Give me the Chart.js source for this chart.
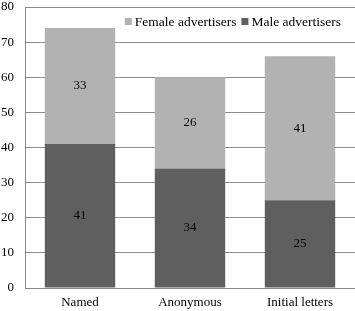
<!DOCTYPE html>
<html lang="en">
<head>
  <meta charset="UTF-8"/>
  <title>Advertisers by signature type</title>
  <script src="https://cdn.jsdelivr.net/npm/chart.js"></script>
  <style>
    html, body { margin: 0; padding: 0; background: #fff; }
    .chart-box { width: 355px; height: 311px; position: relative; }
  </style>
</head>
<body>
<div class="chart-box">
  <canvas id="adChart"></canvas>
</div>
<script>
  const categories = ['Named', 'Anonymous', 'Initial letters'];
  const maleValues = [41, 34, 25];
  const femaleValues = [33, 26, 41];
  const yTicks = [0, 10, 20, 30, 40, 50, 60, 70, 80];

  const serif = '"Liberation Serif", "Times New Roman", serif';
  const maleColor = '#5f5f5f';
  const femaleColor = '#b2b2b2';

  // writes each segment's value in the middle of the segment
  const segmentLabels = {
    id: 'segmentLabels',
    afterDatasetsDraw(chart) {
      const ctx = chart.ctx;
      ctx.save();
      ctx.font = '13px ' + serif;
      ctx.fillStyle = '#000';
      ctx.textAlign = 'center';
      ctx.textBaseline = 'middle';
      chart.data.datasets.forEach((ds, i) => {
        chart.getDatasetMeta(i).data.forEach((bar, j) => {
          const mid = (bar.y + bar.base) / 2;
          ctx.fillText(ds.data[j], bar.x, mid);
        });
      });
      ctx.restore();
    }
  };

  // legend sits inside the plot, top right
  const innerLegend = {
    id: 'innerLegend',
    afterDraw(chart) {
      const ctx = chart.ctx;
      const area = chart.chartArea;
      ctx.save();
      ctx.font = '13.5px ' + serif;
      ctx.textBaseline = 'middle';
      const items = chart.data.datasets.slice().reverse();
      const y = area.top + 15;
      let x = area.right - 14;
      for (let i = items.length - 1; i >= 0; i--) {
        const w = ctx.measureText(items[i].label).width;
        x -= w;
        ctx.fillStyle = '#000';
        ctx.fillText(items[i].label, x, y);
        x -= 10;
        ctx.fillStyle = items[i].backgroundColor;
        ctx.fillRect(x, y - 4, 7, 7);
        x -= 5;
      }
      ctx.restore();
    }
  };

  new Chart(document.getElementById('adChart'), {
    type: 'bar',
    data: {
      labels: categories,
      datasets: [
        { label: 'Male advertisers', data: maleValues, backgroundColor: maleColor },
        { label: 'Female advertisers', data: femaleValues, backgroundColor: femaleColor }
      ]
    },
    options: {
      responsive: true,
      maintainAspectRatio: false,
      animation: false,
      layout: { padding: 0 },
      datasets: { bar: { categoryPercentage: 1, barPercentage: 0.64 } },
      plugins: {
        legend: { display: false },
        tooltip: { enabled: false }
      },
      scales: {
        x: {
          stacked: true,
          grid: { display: false, drawTicks: false },
          border: { color: '#888' },
          ticks: { font: { family: serif, size: 13 }, color: '#000', padding: 7 },
          afterFit(axis) { axis.height = 23; }
        },
        y: {
          stacked: true,
          min: 0,
          max: 80,
          afterBuildTicks(axis) { axis.ticks = yTicks.map(v => ({ value: v })); },
          grid: { color: '#8c8c8c', drawTicks: false },
          border: { color: '#8c8c8c' },
          ticks: { font: { family: serif, size: 13 }, color: '#000', padding: 11 },
          afterFit(axis) {
            axis.width = 25;
            axis.paddingTop = 7;
            axis.paddingBottom = 0;
          }
        }
      }
    },
    plugins: [segmentLabels, innerLegend]
  });
</script>
</body>
</html>
